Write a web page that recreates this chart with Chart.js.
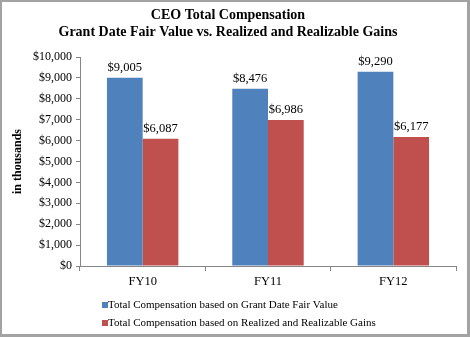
<!DOCTYPE html>
<html>
<head>
    <title>CEO Total Compensation</title>
    <script src="https://cdn.jsdelivr.net/npm/chart.js@4.4.0/dist/chart.umd.min.js"></script>
    <style>
        html, body { margin: 0; padding: 0; background: #fff; }
        #wrap { position: relative; width: 470px; height: 337px; }
        #chart { position: absolute; left: 0; top: 0; }
        #frame {
            position: absolute; left: 0; top: 0; width: 470px; height: 337px;
            box-sizing: border-box; pointer-events: none;
            border-style: solid; border-color: #a3a3a3;
            border-width: 2px 3px 3px 2px;
        }
    </style>
</head>
<body>
    <div id="wrap">
        <canvas id="chart" width="470" height="337"></canvas>
        <div id="frame"></div>
    </div>

    <script>
        const years = ['FY10', 'FY11', 'FY12'];
        const grantDateValue = [9005, 8476, 9290];
        const realizedGains = [6087, 6986, 6177];
        const seriesNames = [
            'Total Compensation based on Grant Date Fair Value',
            'Total Compensation based on Realized and Realizable Gains'
        ];
        const yTicks = [0, 1000, 2000, 3000, 4000, 5000, 6000, 7000, 8000, 9000, 10000];

        const serif = "'Liberation Serif', 'Times New Roman', serif";
        const axisGray = '#868686';

        function money(v) {
            return '$' + v.toLocaleString('en-US');
        }

        // value labels above each bar
        const barValues = {
            id: 'barValues',
            afterDatasetsDraw(chart) {
                const ctx = chart.ctx;
                ctx.save();
                ctx.font = '12.5px ' + serif;
                ctx.fillStyle = '#000';
                ctx.textAlign = 'center';
                ctx.textBaseline = 'bottom';
                chart.data.datasets.forEach((ds, i) => {
                    chart.getDatasetMeta(i).data.forEach((bar, j) => {
                        ctx.fillText(money(ds.data[j]), bar.x, bar.y - 4);
                    });
                });
                ctx.restore();
            }
        };

        // stacked legend under the axis, left aligned
        const stackedLegend = {
            id: 'stackedLegend',
            afterDraw(chart) {
                const ctx = chart.ctx;
                const x0 = 102;
                const rows = [305, 323];
                ctx.save();
                ctx.font = '11px ' + serif;
                ctx.textBaseline = 'middle';
                ctx.textAlign = 'left';
                chart.data.datasets.forEach((ds, i) => {
                    const y = rows[i];
                    ctx.fillStyle = ds.backgroundColor;
                    ctx.fillRect(x0, y - 3, 6, 6);
                    ctx.fillStyle = '#000';
                    ctx.fillText(ds.label, x0 + 6, y);
                });
                ctx.restore();
            }
        };

        new Chart(document.getElementById('chart'), {
            type: 'bar',
            data: {
                labels: years,
                datasets: [{
                    label: seriesNames[0],
                    data: grantDateValue,
                    backgroundColor: '#4F81BD',
                    categoryPercentage: 0.57,
                    barPercentage: 1
                }, {
                    label: seriesNames[1],
                    data: realizedGains,
                    backgroundColor: '#C0504D',
                    categoryPercentage: 0.57,
                    barPercentage: 1
                }]
            },
            options: {
                responsive: false,
                animation: false,
                layout: { padding: { left: 0, right: 14, top: 0, bottom: 41 } },
                plugins: {
                    legend: { display: false },
                    tooltip: { enabled: false },
                    title: {
                        display: true,
                        text: ['CEO Total Compensation', 'Grant Date Fair Value vs. Realized and Realizable Gains'],
                        color: '#000',
                        font: { family: serif, size: 14, weight: 'bold', lineHeight: 1.19 },
                        padding: { top: 7, bottom: 16.7 }
                    }
                },
                scales: {
                    x: {
                        grid: {
                            drawOnChartArea: false,
                            drawTicks: true,
                            tickLength: 5,
                            color: axisGray,
                            offset: true
                        },
                        border: { color: axisGray },
                        ticks: {
                            color: '#000',
                            padding: 3,
                            font: { family: serif, size: 12.5 }
                        },
                        afterFit(scale) { scale.height = 30; }
                    },
                    y: {
                        min: 0,
                        max: 10000,
                        afterBuildTicks(scale) {
                            scale.ticks = yTicks.map(v => ({ value: v }));
                        },
                        grid: {
                            drawOnChartArea: false,
                            drawTicks: true,
                            tickLength: 4,
                            color: axisGray
                        },
                        border: { color: axisGray },
                        ticks: {
                            color: '#000',
                            padding: 4,
                            font: { family: serif, size: 12 },
                            callback: v => money(v)
                        },
                        title: {
                            display: true,
                            text: 'in thousands',
                            color: '#000',
                            font: { family: serif, size: 12, weight: 'bold' },
                            padding: { top: 11, bottom: 0 }
                        },
                        afterFit(scale) { scale.width = 80; }
                    }
                }
            },
            plugins: [barValues, stackedLegend]
        });
    </script>
</body>
</html>
